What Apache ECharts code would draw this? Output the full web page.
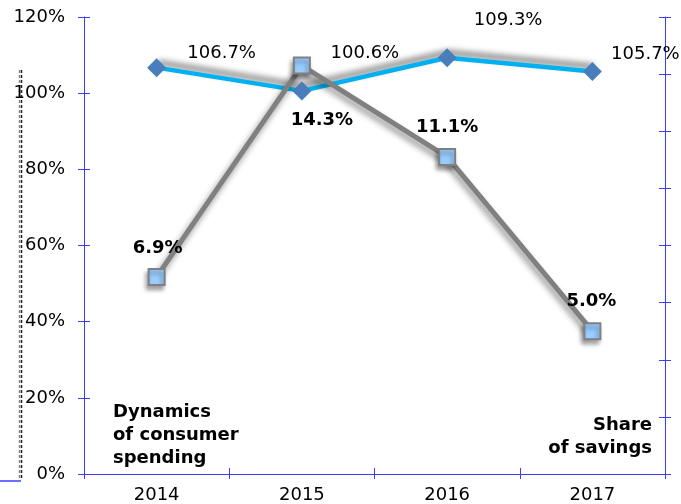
<!DOCTYPE html>
<html><head><meta charset="utf-8">
<script src="https://cdn.jsdelivr.net/npm/echarts@6/dist/echarts.min.js"></script>
<style>html,body{margin:0;padding:0;background:#fff}#c{width:681px;height:504px}</style>
</head><body><div id="c"></div>
<script>
// ---- data ----
const categories = ['2014', '2015', '2016', '2017'];
const spendingDynamics = [106.7, 100.6, 109.3, 105.7];   // left axis, %
const savingsShare = [6.9, 14.3, 11.1, 5.0];             // right axis, %
const leftAxisRange = [0, 120, 20];
const rightAxisRange = [0, 16, 2];
const spendingTitle = 'Dynamics\nof consumer\nspending';
const savingsTitle = 'Share\nof savings';

// ---- layout / style ----
const FONT = 'DejaVu Sans';
const AXIS = '#3c3cff';
const spendingLabelOffsets = [[65, -14], [63, -38], [61, -37], [53, -17]];
const savingsLabelOffsets = [[1, -29], [20, 55], [0, -30], [-1, -30]];
const gridRect = {left: 84, right: 16, top: 17, bottom: 30, containLabel: false};

const chart = echarts.init(document.getElementById('c'), null, {renderer: 'canvas'});

// main axis: line + labels; tick axis: cross ticks only (offset outward, inside ticks of double length)
function yMain(range, pos, showLabel) {
  return {
    type: 'value', gridIndex: 0, position: pos, min: range[0], max: range[1], interval: range[2],
    axisLine: {show: true, onZero: false, lineStyle: {color: AXIS, width: 1}},
    axisTick: {show: false},
    axisLabel: {show: showLabel, formatter: '{value}%', color: '#000', fontFamily: FONT, fontSize: 18, margin: 19},
    splitLine: {show: false}
  };
}
function yTicks(range, pos) {
  return {
    type: 'value', gridIndex: 1, position: pos, offset: 6, min: range[0], max: range[1], interval: range[2],
    axisLine: {show: false, onZero: false},
    axisTick: {show: true, inside: true, length: 12, lineStyle: {color: AXIS, width: 1}},
    axisLabel: {show: false},
    splitLine: {show: false}
  };
}
function xMain() {
  return {
    type: 'category', gridIndex: 0, data: categories, position: 'bottom', boundaryGap: true,
    axisLine: {show: true, onZero: false, lineStyle: {color: AXIS, width: 1}},
    axisTick: {show: false},
    axisLabel: {show: true, color: '#000', fontFamily: FONT, fontSize: 18, margin: 12},
    splitLine: {show: false}
  };
}
function xTicks() {
  return {
    type: 'category', gridIndex: 1, data: categories, position: 'bottom', offset: 5, boundaryGap: true,
    axisLine: {show: false, onZero: false},
    axisTick: {show: true, inside: true, length: 11, lineStyle: {color: AXIS, width: 1}},
    axisLabel: {show: false},
    splitLine: {show: false}
  };
}

chart.setOption({
  animation: false,
  backgroundColor: '#fff',
  grid: [Object.assign({}, gridRect), Object.assign({}, gridRect)],
  xAxis: [xMain(), xTicks()],
  yAxis: [
    yMain(leftAxisRange, 'left', true),
    yMain(rightAxisRange, 'right', false),
    yTicks(leftAxisRange, 'left'),
    yTicks(rightAxisRange, 'right')
  ],
  series: [
    {
      name: 'Dynamics of consumer spending', type: 'line', xAxisIndex: 0, yAxisIndex: 0,
      data: spendingDynamics.map((v, i) => ({
        value: v,
        label: {offset: spendingLabelOffsets[i]}
      })),
      symbol: 'diamond', symbolSize: 19,
      lineStyle: {color: '#00b0f0', width: 4.5, shadowColor: 'rgba(0,0,0,0.6)', shadowBlur: 6, shadowOffsetY: -5, shadowOffsetX: 1},
      itemStyle: {color: '#4a7ebb', borderWidth: 0},
      label: {show: true, position: 'inside', formatter: p => p.value.toFixed(1) + '%',
        color: '#000', fontFamily: FONT, fontSize: 18},
      z: 2
    },
    {
      name: 'Share of savings', type: 'line', xAxisIndex: 0, yAxisIndex: 1,
      data: savingsShare.map((v, i) => ({
        value: v,
        label: {offset: savingsLabelOffsets[i]}
      })),
      symbol: 'rect', symbolSize: 16,
      lineStyle: {color: '#808080', width: 5, shadowColor: 'rgba(0,0,0,0.45)', shadowBlur: 6, shadowOffsetX: -2, shadowOffsetY: 4},
      itemStyle: {color: '#99ccff', borderColor: '#808080', borderWidth: 2,
        shadowColor: 'rgba(0,0,0,0.35)', shadowBlur: 4, shadowOffsetX: -2, shadowOffsetY: 4},
      label: {show: true, position: 'inside', formatter: p => p.value.toFixed(1) + '%',
        color: '#000', fontFamily: FONT, fontSize: 18, fontWeight: 'bold'},
      z: 3
    }
  ],
  graphic: [
    {type: 'text', x: 113, y: 401, z: 10,
      style: {text: spendingTitle, font: 'bold 18px "DejaVu Sans"', fill: '#000', lineHeight: 23, align: 'left', verticalAlign: 'top'}},
    {type: 'text', x: 652, y: 414, z: 10,
      style: {text: savingsTitle, font: 'bold 18px "DejaVu Sans"', fill: '#000', lineHeight: 23, align: 'right', verticalAlign: 'top'}},
    {type: 'line', shape: {x1: 19.5, y1: 70, x2: 19.5, y2: 480}, style: {stroke: '#888', lineWidth: 1.5, lineDash: [3, 2]}},
    {type: 'line', shape: {x1: 21.5, y1: 70, x2: 21.5, y2: 480}, style: {stroke: '#222', lineWidth: 1.5, lineDash: [3, 2]}},
    {type: 'line', shape: {x1: 0, y1: 481, x2: 21, y2: 481}, style: {stroke: AXIS, lineWidth: 1.5}}
  ]
});
</script>
</body></html>
